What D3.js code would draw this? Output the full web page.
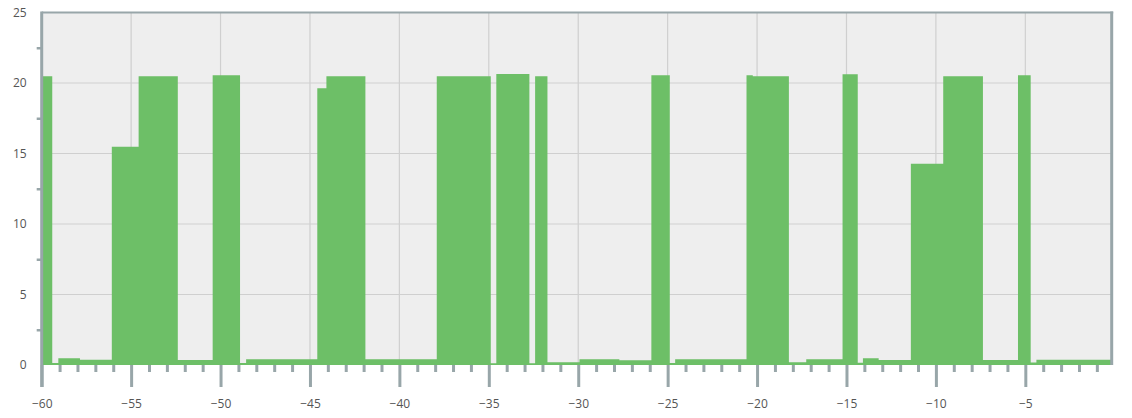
<!DOCTYPE html>
<html>
<head>
<meta charset="utf-8">
<script src="https://cdn.jsdelivr.net/npm/d3@7/dist/d3.min.js"></script>
<style>
  html, body { margin: 0; padding: 0; background: #ffffff; }
  svg { display: block; }
  text { font-family: "Open Sans", "Noto Sans", sans-serif; font-size: 12px; fill: #555555; }
</style>
</head>
<body>
<svg id="chart" width="1132" height="418"></svg>
<script>
// Step segments: start time (s) and value; each segment lasts until the next start.
const segmentStarts = [-60.00, -59.41, -59.07, -57.86, -56.08, -54.58, -52.39, -50.44, -48.91, -48.57,
  -44.59, -44.08, -41.90, -37.91, -34.89, -34.58, -32.73, -32.41, -31.72, -29.93,
  -27.70, -25.91, -24.88, -24.58, -20.59, -20.24, -18.22, -17.25, -15.22, -14.37,
  -14.08, -13.20, -11.40, -9.59, -7.37, -5.41, -4.70, -4.38];
const segmentValues = [20.47, 0.15, 0.47, 0.38, 15.48, 20.47, 0.35, 20.55, 0.15, 0.40,
  19.62, 20.47, 0.40, 20.47, 0.13, 20.64, 0.13, 20.47, 0.19, 0.40,
  0.33, 20.55, 0.15, 0.40, 20.55, 20.47, 0.20, 0.40, 20.62, 0.16,
  0.47, 0.35, 14.28, 20.47, 0.35, 20.55, 0.18, 0.38];
const seriesEnd = -0.21;
const xDomain = [-60, -0.17];
const yDomain = [0, 25];
const xTickValues = [-60, -55, -50, -45, -40, -35, -30, -25, -20, -15, -10, -5];
const xMinorTickValues = d3.range(-59, 0).filter(v => v % 5 !== 0);
const yTickValues = [0, 5, 10, 15, 20, 25];
const yMinorTickValues = [2.5, 7.5, 12.5, 17.5, 22.5];

const svg = d3.select("#chart");
const pLeft = 41.7, pRight = 1111.7, pTop = 12.5, pBottom = 365;
const axisColor = "#98a6a9";

const x = d3.scaleLinear().domain(xDomain).range([pLeft, pRight]);
const y = d3.scaleLinear().domain(yDomain).range([pBottom, pTop]);

// plot background
svg.append("rect").attr("x", pLeft).attr("y", pTop).attr("width", pRight - pLeft).attr("height", pBottom - pTop)
  .attr("fill", "#eeeeee");

// grid
const grid = svg.append("g").attr("stroke", "#cfcfcf").attr("stroke-width", 1.2);
grid.selectAll("line.v").data(xTickValues.filter(v => v !== -60)).join("line")
  .attr("class", "v")
  .attr("x1", d => x(d)).attr("x2", d => x(d)).attr("y1", pTop).attr("y2", pBottom);
grid.selectAll("line.h").data(yTickValues.filter(v => v !== 0 && v !== 25)).join("line")
  .attr("class", "h")
  .attr("x1", pLeft).attr("x2", pRight).attr("y1", d => y(d)).attr("y2", d => y(d));

// data as step area
const pts = segmentStarts.map((t, i) => ({t, v: segmentValues[i]}));
pts.push({t: seriesEnd, v: segmentValues[segmentValues.length - 1]});
const area = d3.area()
  .x(d => x(d.t))
  .y0(y(0))
  .y1(d => y(d.v))
  .curve(d3.curveStepAfter);
svg.append("path").datum(pts).attr("d", area).attr("fill", "#6dbf67");

// x axis ticks
const xMajor = d3.axisBottom(x).tickValues(xTickValues).tickSize(22).tickPadding(12)
  .tickFormat(d3.format("d"));
const gx = svg.append("g").attr("transform", `translate(0,${pBottom})`).call(xMajor);
gx.select(".domain").remove();
gx.selectAll(".tick line").attr("stroke", axisColor).attr("stroke-width", 3);
gx.selectAll(".tick text").attr("fill", "#555").style("font-size", "12px");

const xMinor = d3.axisBottom(x).tickValues(xMinorTickValues).tickSize(7).tickFormat("");
const gxm = svg.append("g").attr("transform", `translate(0,${pBottom})`).call(xMinor);
gxm.select(".domain").remove();
gxm.selectAll(".tick line").attr("stroke", axisColor).attr("stroke-width", 3);

// y axis labels
const yAxis = d3.axisLeft(y).tickValues(yTickValues).tickSize(0).tickPadding(15);
const gy = svg.append("g").attr("transform", `translate(${pLeft},0)`).call(yAxis);
gy.select(".domain").remove();
gy.selectAll(".tick text").attr("fill", "#555").style("font-size", "12px");

const yMinor = d3.axisLeft(y).tickValues(yMinorTickValues).tickSize(5).tickFormat("");
const gym = svg.append("g").attr("transform", `translate(${pLeft},0)`).call(yMinor);
gym.select(".domain").remove();
gym.selectAll(".tick line").attr("stroke", axisColor).attr("stroke-width", 2.5);

// frame
svg.append("line").attr("x1", pLeft).attr("x2", pRight + 1.5).attr("y1", pTop).attr("y2", pTop)
  .attr("stroke", axisColor).attr("stroke-width", 2);
svg.append("line").attr("x1", pLeft).attr("x2", pLeft).attr("y1", pTop - 1).attr("y2", pBottom + 22)
  .attr("stroke", axisColor).attr("stroke-width", 3);
svg.append("line").attr("x1", pRight).attr("x2", pRight).attr("y1", pTop - 1).attr("y2", pBottom)
  .attr("stroke", axisColor).attr("stroke-width", 3);
</script>
</body>
</html>
